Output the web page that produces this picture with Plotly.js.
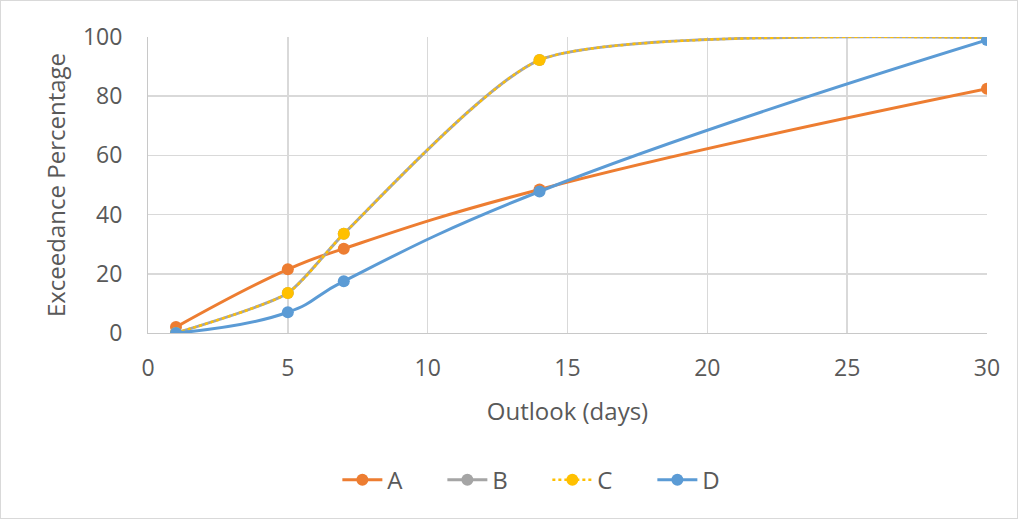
<!DOCTYPE html>
<html><head><meta charset="utf-8">
<script src="https://cdn.plot.ly/plotly-3.0.1.min.js"></script>
<style>html,body{margin:0;padding:0;background:#fff;}#chart{width:1018px;height:519px;box-sizing:border-box;border:1px solid #d9d9d9;}</style>
</head><body><div id="chart"></div>
<script>
const outlook = [1, 5, 7, 14, 30];
const seriesA = [2, 21.5, 28.5, 48.5, 82.5];
const seriesB = [0, 13.5, 33.5, 92.2, 99.8];
const seriesC = [0, 13.5, 33.5, 92.2, 99.8];
const seriesD = [0, 7, 17.5, 47.8, 99];
const xTicks = [0, 5, 10, 15, 20, 25, 30];
const yTicks = [0, 20, 40, 60, 80, 100];

function tr(name, y, color, dash, lw, sm) {
  return {x: outlook, y: y, name: name, type: 'scatter', mode: 'lines+markers',
    line: {color: color, width: lw, shape: 'spline', smoothing: sm, dash: dash},
    marker: {color: color, size: 12}};
}
const data = [
  tr('A', seriesA, '#ED7D31', 'solid', 3, 1.3),
  tr('B', seriesB, '#A5A5A5', 'solid', 3, 0.6),
  tr('C', seriesC, '#FFC000', 'dot', 2.5, 0.6),
  tr('D', seriesD, '#5B9BD5', 'solid', 3, 1.3)
];
const fam = 'Open Sans, Liberation Sans, sans-serif';
const layout = {
  width: 1016, height: 517,
  margin: {l: 147, r: 30, t: 36, b: 185},
  paper_bgcolor: '#fff', plot_bgcolor: '#fff',
  font: {family: fam, color: '#595959', size: 23},
  xaxis: {range: [0, 30], tickvals: xTicks, showgrid: true, gridcolor: '#d9d9d9', gridwidth: 1.5,
    zeroline: false, showline: true, linecolor: '#c8c8c8', ticks: '', ticklabelstandoff: 14,
    title: {text: 'Outlook (days)', font: {size: 24, color: '#595959'}, standoff: 21}, tickfont: {size: 23}},
  yaxis: {range: [0, 100], tickvals: yTicks, showgrid: true, gridcolor: '#d9d9d9', gridwidth: 1.5,
    zeroline: false, showline: true, linecolor: '#c8c8c8', ticks: '', ticklabelstandoff: 20,
    title: {text: 'Exceedance Percentage', font: {size: 24, color: '#595959'}, standoff: 10}, tickfont: {size: 23}},
  showlegend: true,
  legend: {orientation: 'h', x: 0.476, xanchor: 'center', y: -0.497, yanchor: 'middle',
    font: {size: 24, color: '#595959'}, itemwidth: 40, entrywidth: 50, tracegroupgap: 0}
};
Plotly.newPlot('chart', data, layout, {displayModeBar: false, staticPlot: true});
</script></body></html>
